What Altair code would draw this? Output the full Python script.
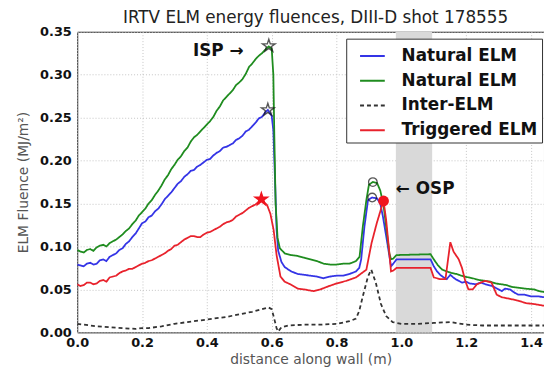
import altair as alt
import pandas as pd

# ---------------- data ----------------
x_blue = [0.00, 0.01, 0.02, 0.03, 0.04, 0.05, 0.06, 0.07, 0.08, 0.09, 0.10, 0.11, 0.12, 0.13, 0.14,
          0.15, 0.16, 0.17, 0.18, 0.19, 0.20, 0.21, 0.22, 0.23, 0.24, 0.25, 0.26, 0.27, 0.28, 0.29,
          0.30, 0.31, 0.32, 0.33, 0.34, 0.35, 0.36, 0.37, 0.38, 0.39, 0.40, 0.41, 0.42, 0.43, 0.44,
          0.45, 0.46, 0.47, 0.48, 0.49, 0.50, 0.51, 0.52, 0.53, 0.54, 0.55, 0.56, 0.57, 0.58, 0.588,
          0.600, 0.605, 0.610, 0.615, 0.620, 0.630, 0.640, 0.660, 0.680, 0.700, 0.720, 0.740, 0.760,
          0.780, 0.800, 0.820, 0.840, 0.860, 0.870, 0.876, 0.886, 0.897, 0.910, 0.925, 0.935, 0.943,
          0.958, 0.968, 0.975, 0.985, 1.090, 1.100, 1.110, 1.120, 1.130, 1.140, 1.151, 1.160, 1.167,
          1.177, 1.187, 1.200, 1.210, 1.230, 1.245, 1.260, 1.280, 1.295, 1.310, 1.320, 1.335, 1.350,
          1.360, 1.380, 1.400, 1.420, 1.440]
y_blue = [0.079, 0.078, 0.077, 0.080, 0.081, 0.079, 0.080, 0.084, 0.085, 0.083, 0.088, 0.090, 0.092, 0.096, 0.098,
          0.103, 0.106, 0.111, 0.115, 0.121, 0.127, 0.129, 0.134, 0.136, 0.141, 0.144, 0.149, 0.155, 0.159, 0.163,
          0.168, 0.173, 0.176, 0.181, 0.184, 0.188, 0.189, 0.193, 0.195, 0.198, 0.201, 0.202, 0.206, 0.209, 0.211,
          0.215, 0.216, 0.218, 0.220, 0.224, 0.226, 0.229, 0.234, 0.236, 0.240, 0.244, 0.249, 0.251, 0.256, 0.259,
          0.252, 0.235, 0.180, 0.120, 0.095, 0.082, 0.076, 0.071, 0.068, 0.067, 0.066, 0.065, 0.063,
          0.065, 0.066, 0.066, 0.068, 0.071, 0.075, 0.085, 0.123, 0.154, 0.157, 0.156, 0.150, 0.135,
          0.101, 0.077, 0.080, 0.085, 0.085, 0.077, 0.071, 0.067, 0.064, 0.062, 0.067, 0.064, 0.062,
          0.060, 0.058, 0.059, 0.057, 0.056, 0.058, 0.056, 0.054, 0.051, 0.048, 0.051, 0.050, 0.046,
          0.044, 0.044, 0.042, 0.042, 0.041]

x_green = [0.00, 0.01, 0.02, 0.03, 0.04, 0.05, 0.06, 0.07, 0.08, 0.09, 0.10, 0.11, 0.12, 0.13, 0.14,
           0.15, 0.16, 0.17, 0.18, 0.19, 0.20, 0.21, 0.22, 0.23, 0.24, 0.25, 0.26, 0.27, 0.28, 0.29,
           0.30, 0.31, 0.32, 0.33, 0.34, 0.35, 0.36, 0.37, 0.38, 0.39, 0.40, 0.41, 0.42, 0.43, 0.44,
           0.45, 0.46, 0.47, 0.48, 0.49, 0.50, 0.51, 0.52, 0.53, 0.54, 0.55, 0.56, 0.57, 0.58, 0.591,
           0.600, 0.605, 0.608, 0.612, 0.618, 0.625, 0.640, 0.660, 0.680, 0.700, 0.720, 0.740, 0.760,
           0.780, 0.800, 0.820, 0.840, 0.860, 0.871, 0.881, 0.892, 0.900, 0.912, 0.925, 0.935, 0.945,
           0.953, 0.963, 0.968, 0.975, 0.985, 1.090, 1.100, 1.113, 1.126, 1.140, 1.156, 1.170, 1.185,
           1.207, 1.220, 1.240, 1.258, 1.275, 1.290, 1.309, 1.325, 1.340, 1.360, 1.380, 1.410, 1.425,
           1.440]
y_green = [0.096, 0.094, 0.093, 0.096, 0.097, 0.095, 0.099, 0.101, 0.102, 0.100, 0.104, 0.106, 0.108, 0.111, 0.114,
           0.118, 0.121, 0.126, 0.130, 0.136, 0.140, 0.144, 0.150, 0.154, 0.160, 0.165, 0.171, 0.178, 0.183, 0.190,
           0.195, 0.201, 0.205, 0.211, 0.215, 0.222, 0.227, 0.230, 0.234, 0.238, 0.242, 0.246, 0.251, 0.258, 0.263,
           0.270, 0.274, 0.278, 0.282, 0.288, 0.291, 0.295, 0.301, 0.309, 0.313, 0.318, 0.322, 0.325, 0.329, 0.333,
           0.330, 0.300, 0.230, 0.150, 0.110, 0.098, 0.092, 0.090, 0.089, 0.087, 0.085, 0.083, 0.080,
           0.079, 0.079, 0.080, 0.080, 0.083, 0.088, 0.123, 0.154, 0.172, 0.175, 0.174, 0.165, 0.148,
           0.123, 0.092, 0.085, 0.086, 0.090, 0.091, 0.085, 0.078, 0.073, 0.071, 0.069, 0.068, 0.066,
           0.064, 0.063, 0.061, 0.060, 0.059, 0.057, 0.056, 0.055, 0.053, 0.052, 0.051, 0.050, 0.048,
           0.047]

x_inter = [0.00, 0.02, 0.04, 0.06, 0.10, 0.14, 0.18, 0.20, 0.22, 0.26, 0.30, 0.34, 0.38, 0.42,
           0.46, 0.50, 0.54, 0.57, 0.59, 0.600, 0.605, 0.615, 0.620, 0.630, 0.650, 0.700, 0.750,
           0.800, 0.840, 0.860, 0.870, 0.881, 0.897, 0.907, 0.921, 0.937, 0.953, 0.973, 1.000,
           1.050, 1.100, 1.150, 1.200, 1.250, 1.300, 1.350, 1.400, 1.440]
y_inter = [0.010, 0.009, 0.008, 0.007, 0.006, 0.005, 0.004, 0.005, 0.005, 0.007, 0.010, 0.012, 0.014, 0.016,
           0.018, 0.021, 0.024, 0.027, 0.029, 0.027, 0.020, 0.005, 0.001, 0.006, 0.008, 0.009, 0.009,
           0.010, 0.013, 0.016, 0.025, 0.042, 0.065, 0.073, 0.058, 0.033, 0.019, 0.012, 0.010,
           0.010, 0.011, 0.012, 0.009, 0.008, 0.008, 0.008, 0.008, 0.008]

x_trig = [0.00, 0.01, 0.02, 0.03, 0.04, 0.05, 0.06, 0.07, 0.08, 0.09, 0.10, 0.11, 0.12, 0.13, 0.14,
          0.15, 0.16, 0.17, 0.18, 0.19, 0.20, 0.21, 0.22, 0.23, 0.24, 0.25, 0.26, 0.27, 0.28, 0.29,
          0.30, 0.31, 0.32, 0.33, 0.34, 0.35, 0.36, 0.37, 0.38, 0.39, 0.40, 0.41, 0.42, 0.43, 0.44,
          0.45, 0.46, 0.47, 0.48, 0.49, 0.50, 0.51, 0.52, 0.53, 0.54, 0.55, 0.56, 0.568,
          0.586, 0.596, 0.606, 0.615, 0.627, 0.640, 0.657, 0.680, 0.700, 0.730,
          0.750, 0.770, 0.800, 0.830, 0.860, 0.892, 0.908, 0.924, 0.939, 0.945, 0.953, 0.963,
          0.968, 0.975, 0.985, 1.090, 1.100, 1.120, 1.136, 1.151, 1.161, 1.177, 1.187, 1.197,
          1.207, 1.220, 1.233, 1.258, 1.278, 1.294, 1.309, 1.335, 1.360, 1.385, 1.410, 1.440]
y_trig = [0.056, 0.054, 0.055, 0.058, 0.058, 0.056, 0.057, 0.060, 0.061, 0.059, 0.064, 0.065, 0.066, 0.069, 0.071,
          0.072, 0.074, 0.074, 0.076, 0.078, 0.080, 0.081, 0.083, 0.084, 0.086, 0.088, 0.090, 0.092, 0.095, 0.097,
          0.101, 0.102, 0.105, 0.108, 0.110, 0.112, 0.112, 0.111, 0.111, 0.114, 0.116, 0.117, 0.119, 0.121, 0.123,
          0.126, 0.128, 0.129, 0.131, 0.135, 0.137, 0.139, 0.142, 0.145, 0.147, 0.149, 0.152, 0.155,
          0.148, 0.138, 0.119, 0.090, 0.065, 0.059, 0.056, 0.051, 0.050, 0.048,
          0.050, 0.053, 0.057, 0.060, 0.064, 0.073, 0.104, 0.127, 0.146, 0.153, 0.131, 0.092,
          0.071, 0.072, 0.075, 0.075, 0.064, 0.062, 0.062, 0.105, 0.094, 0.085, 0.075, 0.060,
          0.050, 0.050, 0.056, 0.060, 0.058, 0.044, 0.041, 0.039, 0.037, 0.034, 0.033, 0.031]

series_ids = ["s1", "s2", "s3", "s4"]
series_labels = ["Natural ELM", "Natural ELM", "Inter-ELM", "Triggered ELM"]
series_colors = ["#3434e6", "#1f8c1f", "#333333", "#e8222c"]
series_dash = [[1, 0], [1, 0], [4, 3], [1, 0]]

# peak markers
open_star_x = [0.591, 0.588]
open_star_y = [0.3335, 0.259]
red_star_x = [0.568]
red_star_y = [0.155]
open_circle_x = [0.912, 0.910]
open_circle_y = [0.175, 0.157]
red_circle_x = [0.945]
red_circle_y = [0.153]

# strike point window and labels
band_x = [0.983, 1.095]
isp_label = ["ISP \u2192"]
isp_x, isp_y = [0.513], [0.328]
osp_label = ["\u2190 OSP"]
osp_x, osp_y = [0.983], [0.167]
title_text = ["IRTV ELM energy fluences, DIII-D shot 178555"]

# ---------------- tables ----------------
rows = []
for sid, xs, ys in zip(series_ids, [x_blue, x_green, x_inter, x_trig], [y_blue, y_green, y_inter, y_trig]):
    for a, b in zip(xs, ys):
        rows.append({"x": a, "y": b, "series": sid})
df = pd.DataFrame(rows)

band_df = pd.DataFrame({"x0": [band_x[0]], "x1": [band_x[1]], "y0": [0.0], "y1": [0.35]})
ostar_df = pd.DataFrame({"x": open_star_x, "y": open_star_y})
rstar_df = pd.DataFrame({"x": red_star_x, "y": red_star_y})
ocirc_df = pd.DataFrame({"x": open_circle_x, "y": open_circle_y})
rcirc_df = pd.DataFrame({"x": red_circle_x, "y": red_circle_y})
isp_df = pd.DataFrame({"x": isp_x, "y": isp_y, "t": isp_label})
osp_df = pd.DataFrame({"x": osp_x, "y": osp_y, "t": osp_label})
title_df = pd.DataFrame({"t": title_text})

xscale = alt.Scale(domain=[0, 1.44], nice=False, zero=False)
yscale = alt.Scale(domain=[0, 0.35], nice=False)
xaxis = alt.Axis(title="distance along wall (m)", values=[0, 0.2, 0.4, 0.6, 0.8, 1.0, 1.2, 1.4],
                 format=".1f", labelPadding=4, titlePadding=3, labelFlush=False)
yaxis = alt.Axis(title="ELM Fluence (MJ/m\u00b2)", values=[0, 0.05, 0.1, 0.15, 0.2, 0.25, 0.3, 0.35],
                 format=".2f", labelPadding=6, titlePadding=9, labelFlush=False)


def X(f):
    return alt.X(f, type="quantitative", scale=xscale, axis=xaxis)


def Y(f):
    return alt.Y(f, type="quantitative", scale=yscale, axis=yaxis)


label_expr = ("datum.label == 's3' ? 'Inter-ELM' : datum.label == 's4' ? 'Triggered ELM' : 'Natural ELM'")

band = alt.Chart(band_df).mark_rect(color="#d9d9d9").encode(
    x=X("x0"), x2="x1", y=Y("y0"), y2="y1")

lines = alt.Chart(df).mark_line(strokeWidth=1.8, clip=True).encode(
    x=X("x"), y=Y("y"),
    color=alt.Color("series:N", scale=alt.Scale(domain=series_ids, range=series_colors),
                    legend=alt.Legend(title=None, labelExpr=label_expr)),
    strokeDash=alt.StrokeDash("series:N", scale=alt.Scale(domain=series_ids, range=series_dash),
                              legend=alt.Legend(title=None, labelExpr=label_expr)),
)

star_path = ("M0,-1 L0.2245,-0.309 L0.951,-0.309 L0.3633,0.118 L0.5878,0.809 L0,0.382 "
             "L-0.5878,0.809 L-0.3633,0.118 L-0.951,-0.309 L-0.2245,-0.309 Z")

ostars = alt.Chart(ostar_df).mark_point(shape=star_path, size=180, filled=False,
                                        color="#111111", strokeWidth=1.4).encode(x=X("x"), y=Y("y"))
rstar = alt.Chart(rstar_df).mark_point(shape=star_path, size=320, filled=True, opacity=1,
                                       color="#f0141e").encode(x=X("x"), y=Y("y"))
ocircs = alt.Chart(ocirc_df).mark_point(shape="circle", size=75, filled=False,
                                        color="#111111", strokeWidth=1.3).encode(x=X("x"), y=Y("y"))
rcirc = alt.Chart(rcirc_df).mark_point(shape="circle", size=120, filled=True, opacity=1,
                                       color="#f0141e").encode(x=X("x"), y=Y("y"))

isp = alt.Chart(isp_df).mark_text(align="right", baseline="middle", fontSize=17, fontWeight="bold",
                                  font="DejaVu Sans", color="#111111").encode(x=X("x"), y=Y("y"), text="t:N")
osp = alt.Chart(osp_df).mark_text(align="left", baseline="middle", fontSize=17, fontWeight="bold",
                                  font="DejaVu Sans", color="#111111").encode(x=X("x"), y=Y("y"), text="t:N")

title = alt.Chart(title_df).mark_text(align="center", baseline="alphabetic", fontSize=17,
                                      font="DejaVu Sans", color="#222222").encode(
    x=alt.value(241), y=alt.value(-9), text="t:N")

chart = alt.layer(band, lines, ostars, rstar, ocircs, rcirc, isp, osp, title).properties(
    width=472, height=304,
    autosize=alt.AutoSizeParams(type="none"),
    padding={"left": 70, "top": 22, "right": 0, "bottom": 34},
).configure_view(
    stroke="#222222", strokeWidth=1
).configure_axis(
    grid=True, gridColor="#c4c4c4", gridDash=[1, 2], gridWidth=1,
    ticks=False, domain=False,
    labelFont="DejaVu Sans", labelFontWeight="bold", labelFontSize=13, labelColor="#111111",
    titleFont="DejaVu Sans", titleFontSize=14, titleFontWeight="normal", titleColor="#555555",
).configure_legend(
    orient="none", legendX=272, legendY=7,
    fillColor="white", strokeColor="#333333", padding=4, cornerRadius=0,
    symbolType="stroke", symbolSize=625, symbolStrokeWidth=2, symbolOffset=9,
    labelOffset=16, labelFontSize=17, labelFontWeight="bold", labelFont="DejaVu Sans",
    labelColor="#111111", rowPadding=3,
)

chart.save("out.html", embed_options={"renderer": "svg", "actions": False})
